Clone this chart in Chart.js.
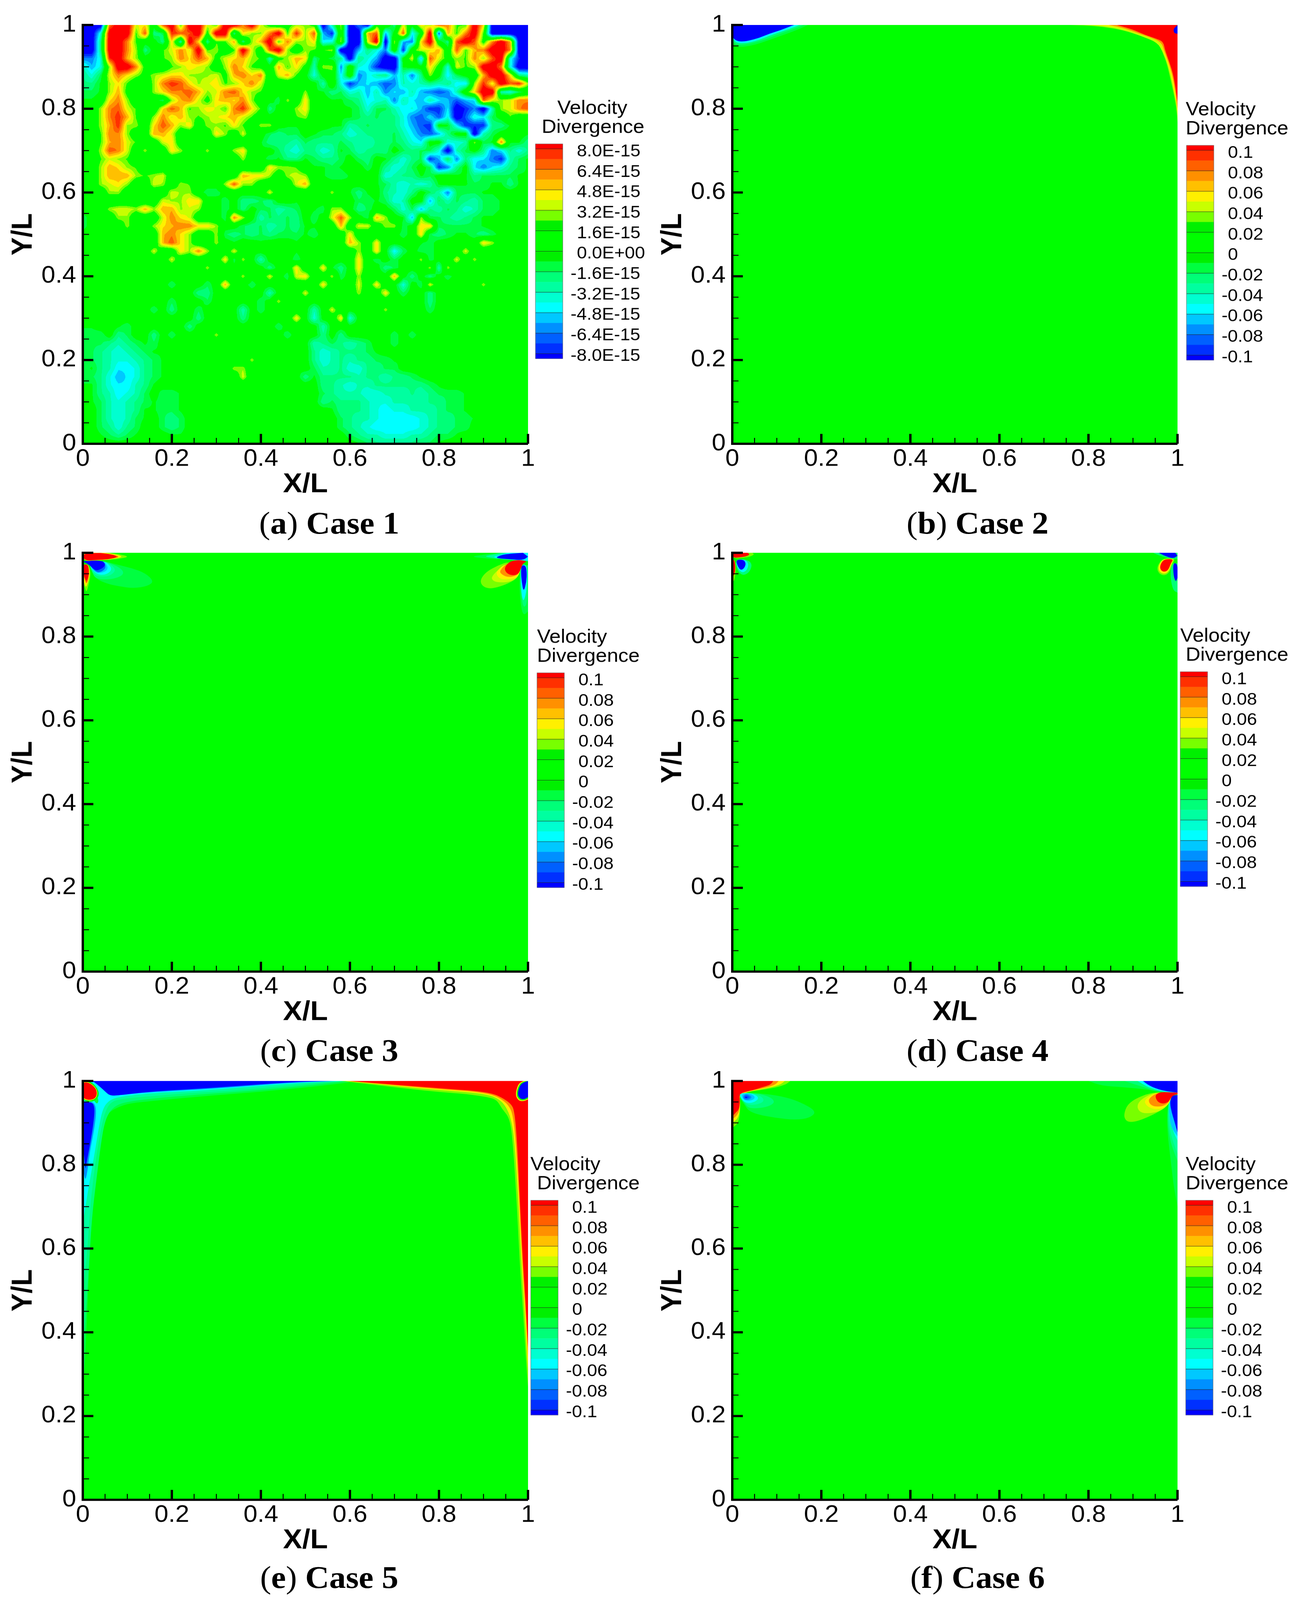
<!DOCTYPE html>
<html><head><meta charset="utf-8">
<style>
html,body{margin:0;padding:0;background:#fff;width:100%;height:100%;overflow:hidden}
#page{position:absolute;left:0;top:0;width:3344px;height:4359px;overflow:hidden;background:#fff;transform-origin:0 0}
canvas{position:absolute}
.cap{position:absolute;transform:translate(-50%,-50%);font:85px "Liberation Serif",serif;color:#000;white-space:nowrap}
</style>
<script src="https://cdn.jsdelivr.net/npm/chart.js@4/dist/chart.umd.min.js"></script>
</head><body><div id="page"></div>
<script>
const majorTicks=[0,0.2,0.4,0.6,0.8,1];
const minorTicks=[0.05,0.1,0.15,0.25,0.3,0.35,0.45,0.5,0.55,0.65,0.7,0.75,0.85,0.9,0.95];
const caseOneLabels=["8.0E-15","6.4E-15","4.8E-15","3.2E-15","1.6E-15","0.0E+00","-1.6E-15","-3.2E-15","-4.8E-15","-6.4E-15","-8.0E-15"];
const otherLabels=["0.1","0.08","0.06","0.04","0.02","0","-0.02","-0.04","-0.06","-0.08","-0.1"];
const legendColors=["#ff0000","#ff3000","#ff6000","#ff9000","#ffc000","#fff000","#c8ff00","#78ff00","#00f000","#00ff00","#00ff00","#00f000","#00ff40","#00ff78","#00ffa0","#00ffd0","#00ffff","#00c8ff","#0090ff","#0060ff","#0030ff","#0000ff"];
// Case 1: levels on a 51 x 51 node grid; the first row is Y/L = 1.
const case1Rows=[
"kkk7BB45.8B2BB42BB7B41.13"+"31kd3khk11c4.538722B5kkkkk",
"kkeBBB28cb988B1BBc5337B29"+"38gj2kk68g.8f.Bi627B2kkkkk",
"kkcBB72..c5dB5c226c36B273"+"35fe3kk4Bk3gh5B.c8B817B6kk",
"kkcBB73c.2474B23.2B4.8B3."+"3223kkgceh1j1446.8267BB7kk",
"hhe9B63..237586145632d136"+"5c.bckcegkk.4g84132738Bejk",
"dge3BB71..23543.37521.625"+"1d33h1efjkka..51e423BB7ekk",
"ceb475313455333416757a462"+".e.1f1hfdcgdhc3.fb..6BB5cd",
"cca352..3798534523574...."+"..d1ejgfgihdedcdcff394B893",
"bba361..3577863478532...a"+"3aacbedgdhfgdghihd15BBdeb.",
"aa.573...b3674156573..b3."+"5..aabcfedhdfgdfgigf843477",
"..37842..586235427952c..3"+"5..aaabebbdfegjjfkjhkd3478",
"..37962.374632345642....2"+"3...aabcbccehifiekiefb.2..",
"..36933.58635.33252.33.aa"+"...aadcbcccegij.afjjjcca..",
"..2773..664....53.4..bcbb"+".abbcedcccbdfhigc..kdb...a",
"..26742..45.........acccd"+"bcccbcddccbcef..eed3ba7aac",
"..3874.3..53..3..35.a.bde"+"ccedabdccc.bcbbekdb.chfcec",
"..2432............3..bacc"+"abccb.bc.acecbjgbhcffhjdba",
"..36532..............5332"+".aaba..b.cedb.bjhc.fhfecba",
"..36663234....2...6553.34"+"3.abba...edccab..aacbbbbaa",
"..3453..43.32...3833....4"+"6....a..abdededa.aabbaaca.",
"...33.....433.bb.....4..."+"...3.aca.cdec.bdhbbbaa....",
".........43355..b.ccbc..a"+"......bbabed..gbdbcdbbaa..",
"...34436366343..b.c.bbdcb"+".ab33.cb..bebgcdbcedbbaa..",
"b...33...4754...b73.dbcbc"+".b.483.b63.ag3bbcdcbaa....",
"b....3..35677553..bcbdcbc"+"aa..6.44.33b.55bbbbba.....",
".........6753..3bcbcbcbbb"+"ab.a.5.....b.5bcbaabcb....",
".........6853..3.a..a...a..a..63.5....ab.....53....",
"........4..5373..4.a....a..a...3.5.fb.bb...4.......",
"..........4.....5b3.d...b......5.b.b..3b..4.3......",
"......a.......3......c..5..5ac.5..cb...3d3.........",
"...............a..3..4.b45..3b.3...6.c.c.b.........",
"..........b...b.6..b.......5...4.5..e.b4.....3.....",
".............cc......d...4.....3..5.b..c...........",
".......a..b...b.....b.3................c...........",
"........b.c..b....d.b.....d.4.....3....b...........",
".............c....c.....5.e..5e....................",
"aa..ab......c.........b....d.......................",
"bbb.cb..c.b....3.......b...c.c.....b.b.............",
"bbbcdcbab.................dcbcdcb..b...............",
"bbcdedcbaa................cedcccba.................",
"bbcdeedcbaa........3......cedcdccbbaa..............",
"bacdffecba.......33.....a.bddceeccbb...............",
"bbcegfecba........4......caccccdccdccba..........a.",
"aaceffdca..................ccdeddccccccba........a.",
".acdfedb.bba...............bcdddeedddcdcbbba.......",
".abdedcbabba...............cbcccdeeddddccbba.......",
"..bdedcaabba................acccdefeedddcbba.......",
"..bdedba.bcb.................bcddeffffedccbba......",
"..bcecb..bcb....a............bcdefffffedccbb.......",
"..abcba...aa...aa......a......bcddeeeddcbba........",
"...............................abcccccbba.........."
];
// Contour outlines, in X/L and Y/L: [level, outline].
const case2Left=[
[-1.5,[[0,.96],[.005,.95],[.018,.947],[.04,.95],[.065,.957],[.09,.967],[.12,.978],[.15,.99],[.17,1],[0,1]]],
[-2.5,[[0,.965],[.006,.955],[.018,.952],[.04,.955],[.065,.962],[.09,.972],[.115,.982],[.145,.993],[.16,1],[0,1]]],
[-5.5,[[0,.97],[.007,.959],[.019,.956],[.038,.958],[.062,.965],[.085,.975],[.112,.985],[.14,.995],[.15,1],[0,1]]],
[-12,[[0,.972],[.007,.963],[.019,.96],[.0365,.962],[.06,.969],[.083,.979],[.11,.988],[.133,.998],[.139,1],[0,1]]]
];
const case2Right=[
[3.5,[[.7588,1],[.8114,.9976],[.8553,.9924],[.8991,.9813],[.9401,.9646],[.9606,.9559],[.9664,.9339],[.9752,.9105],[.9825,.8784],[.9898,.8433],[.9971,.8053],[1,.7673],[1,1]]],
[4.5,[[.79,1],[.835,.997],[.88,.988],[.92,.973],[.955,.958],[.967,.935],[.976,.911],[.984,.88],[.991,.845],[.998,.807],[1,.78],[1,1]]],
[5.5,[[.82,1],[.86,.9965],[.9,.9855],[.94,.97],[.962,.9605],[.969,.936],[.978,.912],[.986,.881],[.992,.846],[.998,.81],[1,.79],[1,1]]],
[7.5,[[.845,1],[.88,.9925],[.915,.979],[.945,.968],[.964,.958],[.97,.938],[.979,.9125],[.988,.8825],[.994,.8475],[1,.8],[1,1]]],
[12,[[.864,1],[.899,.9895],[.928,.976],[.952,.9675],[.968,.96],[.972,.94],[.981,.9135],[.99,.884],[.9957,.849],[1,.817],[1,1]]],
[-12,[[1,.9998],[.9904,.99],[.9927,.98],[1,.9792]]]
];
const case3Left=[
[-1.5,[[.0164,.9796],[.047,.9806],[.0763,.9719],[.111,.9632],[.1407,.9515],[.1597,.932],[.1465,.9206],[.1143,.915],[.082,.9196],[.053,.9264],[.0295,.938],[.0236,.9515],[.0164,.9643]]],
[-2.5,[[.0164,.9796],[.047,.9806],[.0617,.9748],[.082,.9655],[.093,.953],[.085,.943],[.0617,.9364],[.0383,.9364],[.0266,.9416],[.0222,.9515],[.0164,.9655]]],
[-3.5,[[.0164,.9797],[.0485,.9797],[.0617,.973],[.0719,.9632],[.0719,.9544],[.0588,.944],[.0383,.9428],[.0251,.948],[.0178,.9643]]],
[-5.5,[[.0164,.9797],[.0485,.9797],[.0588,.9719],[.065,.962],[.06,.953],[.047,.9468],[.032,.949],[.0205,.96],[.0164,.9684]]],
[-6.5,[[.0164,.9797],[.0485,.979],[.0544,.97],[.0564,.9628],[.0515,.9556],[.0397,.9515],[.0295,.9523],[.0193,.9628],[.0164,.97]]],
[-8.5,[[.0164,.98],[.047,.9797],[.0515,.97],[.05,.9614],[.041,.954],[.031,.9535],[.02,.965],[.0164,.972]]],
[-12,[[0,.9796],[.018,.982],[.044,.9806],[.0485,.976],[.05,.97],[.044,.9628],[.031,.957],[.022,.9628],[.0164,.97]]],
[3.5,[[0,.995],[.006,1],[.06,1],[.08,.997],[.1056,.9907],[.08,.985],[.05,.982],[.02,.9815],[.01,.98],[0,.986]]],
[5.5,[[0,.994],[.006,1],[.05,1],[.07,.997],[.092,.9907],[.07,.9855],[.045,.9825],[.02,.982],[.01,.9805],[0,.987]]],
[8.5,[[0,.993],[.006,.999],[.04,1],[.06,.997],[.085,.9907],[.065,.986],[.045,.983],[.02,.9825],[.01,.981],[0,.9875]]],
[12,[[0,.992],[.006,.998],[.027,.9995],[.047,.9985],[.0675,.9956],[.078,.9907],[.0675,.9863],[.047,.984],[.027,.9833],[.01,.981],[0,.988]]],
[3.5,[[0,.97],[.009,.974],[.0155,.967],[.0178,.947],[.0135,.925],[.0085,.9055],[.005,.915],[0,.932]]],
[5.5,[[0,.97],[.009,.9735],[.014,.966],[.016,.948],[.012,.93],[.0075,.917],[.004,.925],[0,.938]]],
[8.5,[[0,.97],[.009,.9735],[.0135,.966],[.0145,.949],[.011,.932],[.0075,.926],[.0045,.937],[0,.95]]],
[12,[[0,.97],[.009,.9735],[.0126,.9655],[.0135,.9497],[.0105,.937],[.0075,.932],[.0047,.941],[0,.9556]]]
];
const case3Right=[
[-1.5,[[.87,.9907],[.906,.9965],[.935,1],[1,1],[1,.98],[.94,.984],[.9,.987]]],
[-3.5,[[.9,.9915],[.925,.9965],[.945,1],[1,1],[1,.98],[.95,.984],[.92,.988]]],
[-5.5,[[.92,.99],[.94,.9965],[.955,1],[1,1],[1,.981],[.96,.984],[.935,.986]]],
[-12,[[.9271,.9892],[.9447,.9965],[.9886,1],[1,.9907],[.9886,.982],[.9593,.9848],[.9359,.9863]]],
[-1.5,[[.9827,.97],[.98,.93],[.984,.87],[.99,.85],[1,.86],[1,.97]]],
[-2.5,[[.982,.97],[.982,.93],[.986,.885],[.991,.868],[.998,.88],[1,.93],[1,.97]]],
[-5.5,[[.983,.93],[.987,.89],[.991,.885],[.997,.91],[.999,.95],[.996,.972],[.985,.972]]],
[-12,[[.9856,.97],[.9944,.97],[.9973,.955],[.9965,.93],[.99,.9055],[.9856,.9323],[.9842,.9556]]],
[3.5,[[.9593,.98],[.933,.97],[.9096,.957],[.8965,.9428],[.8926,.9293],[.9008,.9177],[.9184,.914],[.9447,.922],[.9652,.932],[.9783,.9428],[.9842,.9646]]],
[4.5,[[.952,.977],[.9169,.944],[.9213,.932],[.9388,.9288],[.9622,.931],[.9783,.9428],[.9842,.9646]]],
[5.5,[[.9506,.976],[.9295,.957],[.9301,.944],[.9418,.936],[.9652,.9375],[.9783,.944],[.9842,.9646]]],
[7.5,[[.9555,.978],[.9375,.9588],[.9374,.951],[.9535,.941],[.9769,.9457],[.9842,.9646]]],
[12,[[.9593,.98],[.9798,.9833],[.9988,.9797],[.9886,.975],[.9842,.9632],[.9783,.9486],[.9652,.9457],[.9535,.95],[.9476,.9588],[.949,.9675]]]
];
const case4Left=[
[-2.5,[[.006,.984],[.03,.985],[.045,.975],[.04,.955],[.025,.945],[.012,.955]]],
[-5.5,[[.007,.984],[.028,.984],[.037,.975],[.033,.958],[.022,.952],[.012,.962]]],
[-12,[[.008,.983],[.025,.984],[.031,.975],[.027,.963],[.019,.958],[.012,.968]]],
[3.5,[[0,.995],[.004,1],[.045,1],[.05,.996],[.038,.99],[.02,.987],[.008,.986],[0,.99]]],
[12,[[0,.994],[.004,1],[.034,1],[.04,.996],[.03,.991],[.015,.989],[.006,.988],[0,.991]]],
[3.5,[[0,.985],[.006,.982],[.009,.965],[.006,.94],[.003,.93],[0,.945]]],
[12,[[0,.985],[.005,.982],[.0075,.965],[.005,.948],[.002,.945],[0,.955]]]
];
const case4Right=[
[-2.5,[[.945,1],[.96,.993],[.98,.987],[1,.985],[1,1]]],
[-12,[[.958,1],[.965,.996],[.98,.989],[.992,.987],[1,.993],[.995,1]]],
[3.5,[[.965,.986],[.985,.987],[.995,.985],[.989,.975],[.983,.955],[.972,.945],[.958,.95],[.953,.965]]],
[5.5,[[.966,.985],[.985,.986],[.992,.984],[.987,.975],[.981,.957],[.972,.949],[.96,.953],[.956,.966]]],
[12,[[.968,.984],[.985,.985],[.99,.983],[.985,.975],[.98,.96],[.972,.954],[.963,.957],[.96,.968]]],
[-2.5,[[.986,.975],[.984,.94],[.99,.91],[1,.905],[1,.975]]],
[-12,[[.99,.975],[.998,.975],[1,.965],[1,.94],[.996,.93],[.991,.945]]]
];
const case5Left=[
[-1.5,[[.62,1],[.55,.99],[.4,.974],[.25,.962],[.164,.953],[.1056,.947],[.0763,.9366],[.055,.922],[.047,.904],[.038,.838],[.0266,.75],[.0193,.662],[.012,.5],[.006,.35],[0,.25],[0,1]]],
[-2.5,[[.6,1],[.53,.992],[.4,.978],[.25,.967],[.164,.959],[.11,.952],[.08,.945],[.062,.93],[.05,.905],[.042,.86],[.03,.76],[.02,.67],[.01,.5],[.003,.38],[0,.34],[0,1]]],
[-3.5,[[.59,1],[.5,.993],[.35,.978],[.25,.972],[.164,.965],[.08,.957],[.06,.947],[.048,.92],[.04,.88],[.03,.82],[.018,.72],[.012,.62],[.005,.54],[0,.5],[0,1]]],
[-5.5,[[.58,1],[.48,.995],[.35,.984],[.25,.976],[.164,.972],[.085,.963],[.06,.955],[.045,.935],[.036,.89],[.027,.83],[.012,.74],[.006,.7],[0,.66],[0,1]]],
[-1.5,[[.03,.965],[.036,.955],[.033,.945],[.027,.95],[.025,.955]]],
[-7.5,[[.57,1],[.47,.996],[.35,.986],[.25,.979],[.164,.974],[.08,.968],[.062,.965],[.05,.975],[.03,1]]],
[-12,[[.56,1],[.46,.997],[.35,.988],[.25,.981],[.164,.9757],[.09,.967],[.0617,.964],[.05,.975],[.04,.985],[.025,.998],[.02,1]]],
[-7.5,[[0,.95],[.023,.951],[.03,.9366],[.029,.909],[.0225,.8666],[.016,.833],[.01,.78],[.005,.76],[0,.8]]],
[-12,[[0,.948],[.0208,.9502],[.0266,.9366],[.0251,.909],[.0193,.8666],[.0135,.833],[.0076,.799],[.0061,.7877],[.003,.82],[0,.86]]],
[.5,[[0,1],[.012,1],[.024,.994],[.033,.982],[.037,.969],[.032,.956],[.02,.95],[.008,.951],[0,.956]]],
[5.5,[[0,.998],[.0105,.9985],[.0215,.992],[.0305,.9815],[.0335,.9693],[.029,.958],[.018,.953],[.0076,.954],[0,.958]]],
[12,[[0,.9956],[.0105,.997],[.0208,.9912],[.0295,.981],[.032,.9693],[.028,.959],[.0178,.9547],[.0076,.956],[0,.9605]]]
];
const case5Right=[
[3.5,[[.58,1],[.66,.99],[.75,.979],[.822,.972],[.866,.9684],[.9096,.9617],[.93,.955],[.9418,.9327],[.958,.9125],[.965,.8659],[.974,.7225],[.9813,.566],[.99,.432],[.996,.3245],[1,.27],[1,1]]],
[5.5,[[.59,1],[.67,.9915],[.75,.983],[.822,.9765],[.875,.9725],[.915,.966],[.935,.9565],[.95,.94],[.962,.91],[.9695,.86],[.978,.7225],[.985,.566],[.993,.44],[.998,.34],[1,.31],[1,1]]],
[7.5,[[.595,1],[.675,.992],[.75,.985],[.822,.979],[.878,.975],[.917,.968],[.937,.959],[.956,.943],[.966,.92],[.9725,.858],[.98,.7225],[.987,.566],[.996,.42],[1,.34],[1,1]]],
[12,[[.6,1],[.68,.993],[.75,.987],[.822,.981],[.8804,.9765],[.9184,.9706],[.9389,.9617],[.962,.946],[.9696,.928],[.9754,.8566],[.9813,.7225],[.9886,.566],[.9944,.4768],[.9988,.3874],[1,.3646],[1,1]]],
[5.5,[[.971,.968],[.978,.994],[.99,1],[1,1],[1,.956],[.99,.951],[.978,.953]]],
[.5,[[.973,.968],[.98,.992],[.99,.999],[1,1],[1,.958],[.99,.953],[.98,.955]]],
[-12,[[.976,.9684],[.982,.9908],[.9915,.9975],[1,.9997],[1,.9617],[.9915,.956],[.982,.9575]]]
];
const case6Left=[
[3.5,[[0,1],[.1302,1],[.12,.9912],[.0892,.982],[.0152,.971],[.019,.941],[.0146,.9],[0,.888]]],
[5.5,[[0,1],[.118,1],[.108,.9912],[.08,.983],[.0152,.971],[.018,.945],[.0146,.912],[0,.9]]],
[7.5,[[0,1],[.104,1],[.097,.9912],[.075,.984],[.0152,.971],[.0178,.948],[.0146,.922],[0,.908]]],
[12,[[0,1],[.092,1],[.0863,.9912],[.0687,.9854],[.045,.978],[.0152,.971],[.0175,.9503],[.0146,.9313],[.008,.925],[0,.915]]],
[-1.5,[[.0161,.971],[.06,.971],[.1096,.9643],[.1506,.951],[.19,.9277],[.174,.9116],[.1418,.907],[.098,.9116],[.057,.92],[.0365,.929],[.029,.941],[.019,.9555]]],
[-2.5,[[.0161,.971],[.054,.971],[.0834,.963],[.096,.951],[.0863,.941],[.063,.935],[.0365,.935],[.029,.945],[.019,.958]]],
[-3.5,[[.0161,.971],[.0483,.971],[.0687,.961],[.071,.951],[.057,.944],[.0365,.9425],[.0249,.951],[.0175,.961]]],
[-5.5,[[.0161,.971],[.0424,.971],[.0585,.963],[.057,.954],[.0424,.947],[.029,.9485],[.0205,.957]]],
[-6.5,[[.0219,.9695],[.0424,.9695],[.0526,.961],[.0439,.953],[.0307,.953],[.0219,.961]]],
[-7.5,[[.0307,.971],[.047,.961],[.0307,.952],[.0219,.961]]],
[-8.5,[[.0307,.968],[.0424,.961],[.0307,.956],[.025,.961]]],
[-12,[[.0307,.963],[.0355,.961],[.0307,.959],[.0277,.961]]]
];
const case6Right=[
[-1.5,[[.8,1],[.829,.9885],[.88,.985],[.93,.98],[.96,.974],[1,.97],[1,1]]],
[-2.5,[[.8815,1],[.902,.9927],[.9283,.984],[.9546,.974],[1,.97],[1,1]]],
[-5.5,[[.91,1],[.923,.992],[.937,.984],[.964,.975],[1,.971],[1,1]]],
[-12,[[.9225,1],[.9312,.9927],[.9459,.984],[.9693,.9766],[1,.972],[1,1]]],
[-1.5,[[.98,.96],[.975,.896],[.988,.78],[.991,.752],[1,.7],[1,.96]]],
[-2.5,[[.98,.96],[.977,.905],[.984,.853],[1,.809],[1,.96]]],
[-3.5,[[.981,.96],[.978,.925],[.984,.873],[1,.826],[1,.96]]],
[-5.5,[[.982,.96],[.981,.915],[.99,.88],[1,.858],[1,.96]]],
[-6.5,[[.983,.96],[.981,.925],[.985,.89],[1,.868],[1,.96]]],
[-12,[[.9853,.9597],[.9897,.9655],[1,.9664],[1,.8773],[.9927,.905],[.9868,.9255],[.983,.9475]]],
[3.5,[[.9459,.974],[.9108,.9606],[.8874,.9445],[.8792,.9196],[.883,.9065],[.8932,.901],[.9137,.9052],[.9459,.9196],[.9722,.9357],[.9824,.95],[.987,.9655],[1,.9685],[1,.972]]],
[4.5,[[.9503,.974],[.9195,.9577],[.9085,.9416],[.9137,.927],[.9283,.922],[.9546,.9255],[.9722,.9357],[.9824,.949],[.987,.9655],[1,.9685],[1,.972]]],
[5.5,[[.9561,.974],[.9298,.959],[.9254,.9475],[.937,.9357],[.9576,.9313],[.975,.94],[.9824,.949],[.987,.9655],[1,.9685],[1,.972]]],
[7.5,[[.9576,.974],[.9356,.959],[.9356,.9475],[.9459,.939],[.9663,.939],[.981,.949],[.987,.9655],[1,.9685],[1,.972]]],
[12,[[.9576,.9723],[.9693,.974],[1,.972],[1,.9685],[.9897,.9655],[.984,.958],[.9795,.95],[.9693,.9455],[.9576,.9485],[.9517,.957],[.9503,.9655]]]
];
const fieldRows=[case1Rows,null,null,null,null,null];
const fieldLayers=[[],[...case2Left,...case2Right],[...case3Left,...case3Right],[...case4Left,...case4Right],[...case5Left,...case5Right],[...case6Left,...case6Right]];
const caseNames=["Case 1","Case 2","Case 3","Case 4","Case 5","Case 6"];
const caseLetters=["a","b","c","d","e","f"];
const axisColumns=[{left:0,width:1663,x0:212},{left:1663,width:1681,x0:1875}];
const layoutInfo=[
 {col:0,top:68,bar:[1371,392],vx:1427,dx:1387,labels:caseOneLabels,capX:843,capY:1425},
 {col:1,top:68,bar:[3038,396],vx:3036,dx:3036,labels:otherLabels,capX:2503,capY:1425},
 {col:0,top:1506,bar:[1375,1833],vx:1375,dx:1375,labels:otherLabels,capX:843,capY:2861},
 {col:1,top:1506,bar:[3022,1830],vx:3022,dx:3036,labels:otherLabels,capX:2503,capY:2861},
 {col:0,top:2945,bar:[1359,3270],vx:1358,dx:1375,labels:otherLabels,capX:843,capY:4297},
 {col:1,top:2945,bar:[3036,3270],vx:3036,dx:3036,labels:otherLabels,capX:2503,capY:4297}
];
const PW=1140,PH=1141,YW=212,XH=190,TOPPAD=68;
const fontSans='"Liberation Sans",Arial,sans-serif';
function bandIndex(v){return Math.max(0,Math.min(21,10-Math.floor(v)));}
function bandColor(v){const i=bandIndex(v);return (i===8||i===11)?"#00ff00":legendColors[i];}
function decode(c){
  if(c==='.')return 0;
  if(c==='B')return 12;
  if(c==='A')return 10.5;
  if(c==='k')return -12;
  if(c>='0'&&c<='9')return (+c)+0.8;
  return -(c.charCodeAt(0)-96)+0.2;
}
function nodesFrom(rows){
  const out=[];
  rows.forEach((r,j)=>{for(let i=0;i<51;i++){out.push({x:i/50,y:1-j/50,v:decode(r[i]||'.')});}});
  return out;
}
function hexRGB(h){return [parseInt(h.slice(1,3),16),parseInt(h.slice(3,5),16),parseInt(h.slice(5,7),16)];}
const fieldPlugin={id:'fieldPlugin',
 beforeDatasetsDraw(chart){
  const {ctx,chartArea:a,scales:{x:sx,y:sy}}=chart;
  ctx.save();
  ctx.fillStyle='#00ff00';
  ctx.fillRect(a.left,a.top,a.right-a.left,a.bottom-a.top);
  chart.data.datasets.forEach((ds,di)=>{
   if(ds.fieldNodes){
    const vals=ds.data.map(d=>d.v);
    const L=Math.round(a.left),T=Math.round(a.top),W=Math.round(a.right-a.left),H=Math.round(a.bottom-a.top);
    const img=ctx.createImageData(W,H);
    const xs=[],ys=[];
    for(let i=0;i<W;i++)xs.push(Math.min(49.9999,Math.max(0,sx.getValueForPixel(L+i+.5)*50)));
    for(let j=0;j<H;j++)ys.push(Math.min(49.9999,Math.max(0,(1-sy.getValueForPixel(T+j+.5))*50)));
    const rgb=[];for(let b=0;b<22;b++){rgb.push(hexRGB((b===8||b===11)?"#00ff00":legendColors[b]));}
    let p=0;
    for(let j=0;j<H;j++){
     const v0=ys[j],r=Math.floor(v0),fy=v0-r;
     for(let i=0;i<W;i++){
      const u0=xs[i],c=Math.floor(u0),fx=u0-c;
      const a00=vals[r*51+c],a01=vals[r*51+c+1],a10=vals[(r+1)*51+c],a11=vals[(r+1)*51+c+1];
      const val=a00*(1-fx)*(1-fy)+a01*fx*(1-fy)+a10*(1-fx)*fy+a11*fx*fy;
      const col=rgb[bandIndex(val)];
      img.data[p++]=col[0];img.data[p++]=col[1];img.data[p++]=col[2];img.data[p++]=255;
     }
    }
    ctx.putImageData(img,L,T);
    return;
   }
   if(ds.level===undefined)return;
   const pts=chart.getDatasetMeta(di).data;
   const raw=ds.data;
   const n=pts.length;
   ctx.save();
   ctx.beginPath();ctx.rect(a.left,a.top,a.right-a.left,a.bottom-a.top);ctx.clip();
   ctx.beginPath();
   const edge=q=>q.x===0||q.x===1||q.y===1||q.y===0;
   const mid=(p,q)=>[(p.x+q.x)/2,(p.y+q.y)/2];
   const st=mid(pts[n-1],pts[0]);
   ctx.moveTo(st[0],st[1]);
   for(let i=0;i<n;i++){
    const P=pts[i],Q=pts[(i+1)%n],m=mid(P,Q);
    if(edge(raw[i])){ctx.lineTo(P.x,P.y);ctx.lineTo(m[0],m[1]);}
    else ctx.quadraticCurveTo(P.x,P.y,m[0],m[1]);
   }
   ctx.closePath();
   ctx.fillStyle=bandColor(ds.level);
   ctx.fill();
   ctx.restore();
  });
  ctx.restore();
 },
 afterDraw(chart){
  const {ctx,chartArea:a,scales:{x:sx,y:sy}}=chart;
  const info=chart.options.plugins.fieldPlugin;
  ctx.save();
  ctx.fillStyle='#000';
  ctx.fillRect(a.left-3,a.top-3,6,a.bottom-a.top+6);
  ctx.fillRect(a.left-3,a.bottom-3,a.right-a.left+3,6);
  sx.ticks.forEach(t=>{
   const big=majorTicks.includes(t.value),px=sx.getPixelForValue(t.value);
   const w=big?6:2.5,l=big?27:16;
   ctx.fillRect(px-w/2,a.bottom-l,w,l);
  });
  sy.ticks.forEach(t=>{
   const big=majorTicks.includes(t.value),py=sy.getPixelForValue(t.value);
   const w=big?6:2.5,l=big?27:16;
   ctx.fillRect(a.left,py-w/2,l,w);
  });
  const bx=info.bar[0]-info.left,by=info.bar[1]-info.canvasTop;
  const bandH=27.9,halfH=13.5,bw=70;
  let y=by;
  legendColors.forEach((c,i)=>{
   const h=(i===0||i===21)?halfH:bandH;
   ctx.fillStyle=c;ctx.fillRect(bx,y,bw,h+.5);
   y+=h;
  });
  y=by;
  legendColors.forEach((c,i)=>{
   const h=(i===0||i===21)?halfH:bandH;
   if(i%2===1||i===21){ctx.fillStyle='#222';ctx.fillRect(bx,y-.5,bw,1);}
   y+=h;
  });
  ctx.strokeStyle='#666';ctx.lineWidth=1;ctx.strokeRect(bx,by,bw,y-by);
  ctx.fillStyle='#000';
  ctx.font='52px '+fontSans;ctx.textAlign='left';ctx.textBaseline='alphabetic';
  ctx.fillText('Velocity',info.vx-info.left,by-82);
  ctx.fillText('Divergence',info.dx-info.left,by-30);
  ctx.font='46.5px '+fontSans;ctx.textBaseline='middle';
  info.labels.forEach((s,i)=>{
   const lx=bx+bw+(s[0]==='-'?20:36);
   ctx.fillText(s,lx,by+21+55.7*i);
  });
  ctx.restore();
 }
};
Chart.register(fieldPlugin);
const allTicks=[...majorTicks,...minorTicks].sort((p,q)=>p-q);
function scaleOpts(axis,title){
 return {type:'linear',min:0,max:1,
  afterBuildTicks(s){s.ticks=allTicks.map(value=>({value}));},
  afterFit(s){if(axis==='x')s.height=XH;else s.width=YW;},
  grid:{display:false,drawTicks:false},border:{display:false},
  ticks:{autoSkip:false,maxRotation:0,minRotation:0,padding:axis==='x'?4:17,color:'#000',
   font:{family:fontSans,size:64},
   callback:v=>majorTicks.includes(v)?String(v):''},
  title:{display:true,text:title,color:'#000',font:{family:fontSans,size:74,weight:'bold'},
   padding:axis==='x'?{top:0,bottom:34}:{top:16,bottom:0}}
 };
}
const page=document.getElementById('page');
// The sheet is 3344 x 4359; it fills whatever window the browser really opened.
page.style.transform='scale('+(window.innerWidth/3344)+','+(window.innerHeight/4359)+')';
layoutInfo.forEach((p,i)=>{
 const col=axisColumns[p.col];
 const cv=document.createElement('canvas');
 const canvasTop=p.top-TOPPAD, h=TOPPAD+PH+XH;
 cv.width=col.width;cv.height=h;
 cv.style.left=col.left+'px';cv.style.top=canvasTop+'px';cv.style.width=col.width+'px';cv.style.height=h+'px';
 page.appendChild(cv);
 const datasets=[];
 if(fieldRows[i])datasets.push({type:'scatter',label:caseNames[i],fieldNodes:true,data:nodesFrom(fieldRows[i]),pointRadius:0,showLine:false});
 fieldLayers[i].forEach(([level,outline],k)=>datasets.push({type:'scatter',label:caseNames[i]+' contour '+k,level,data:outline.map(([x,y])=>({x,y})),pointRadius:0,showLine:false}));
 new Chart(cv,{type:'scatter',data:{datasets},
  options:{responsive:false,maintainAspectRatio:false,animation:false,devicePixelRatio:1,
   layout:{padding:{left:col.x0-col.left-YW,right:col.width-(col.x0-col.left)-PW,top:TOPPAD,bottom:0}},
   scales:{x:scaleOpts('x','X/L'),y:scaleOpts('y','Y/L')},
   plugins:{legend:{display:false},tooltip:{enabled:false},title:{display:false},
    fieldPlugin:{bar:p.bar,vx:p.vx,dx:p.dx,labels:p.labels,left:col.left,canvasTop}}
  }});
 const c=document.createElement('div');c.className='cap';
 c.style.left=p.capX+'px';c.style.top=p.capY+'px';
 c.innerHTML='(<b>'+caseLetters[i]+'</b>) <b>'+caseNames[i]+'</b>';
 page.appendChild(c);
});
</script></body></html>
